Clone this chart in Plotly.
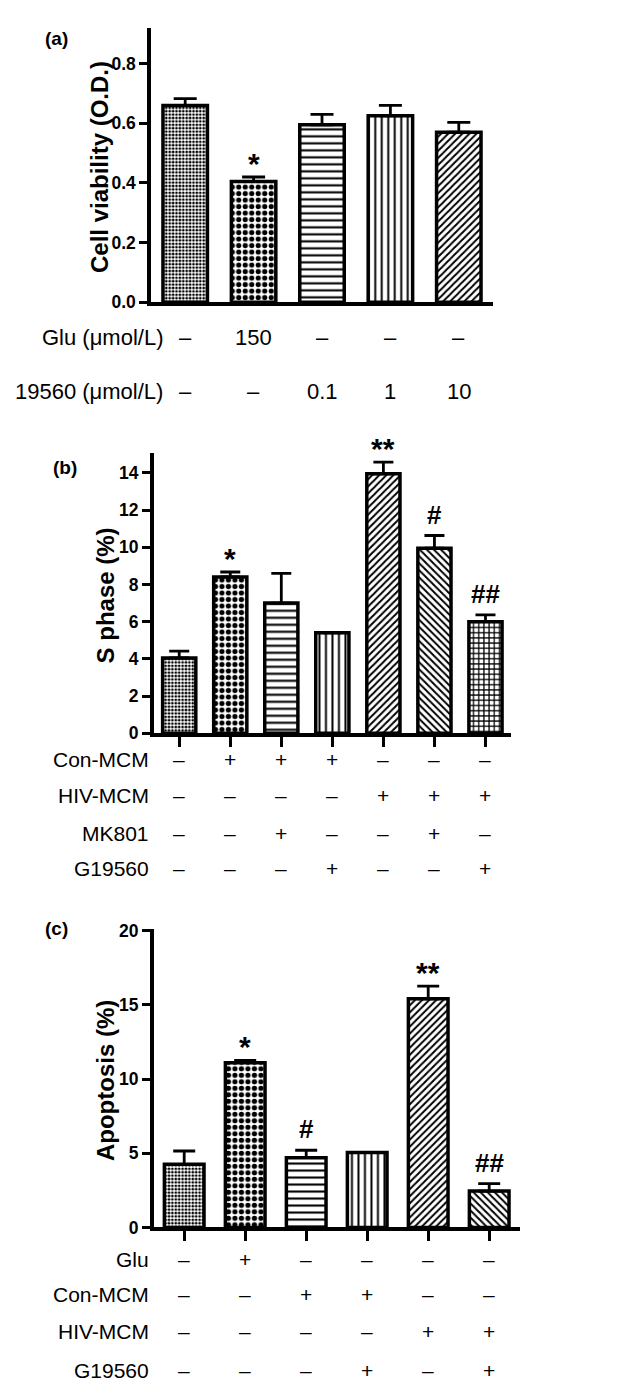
import plotly.graph_objects as go

W, H = 634, 1395

# ---------------- data ----------------
# Panel (a)
a_values = [0.66, 0.405, 0.595, 0.625, 0.57]
a_err = [0.023, 0.015, 0.035, 0.035, 0.033]
a_sig = ["", "*", "", "", ""]
a_row_labels = ["Glu (μmol/L)", "19560 (μmol/L)"]
a_rows = [["–", "150", "–", "–", "–"],
          ["–", "–", "0.1", "1", "10"]]
a_tickvals = [0, 0.2, 0.4, 0.6, 0.8]
a_ticktext = ["0.0", "0.2", "0.4", "0.6", "0.8"]
a_ytitle = "Cell viability (O.D.)"

# Panel (b)
b_values = [4.05, 8.4, 7.0, 5.4, 13.95, 9.95, 6.0]
b_err = [0.37, 0.27, 1.6, 0, 0.62, 0.68, 0.37]
b_sig = ["", "*", "", "", "**", "#", "##"]
b_row_labels = ["Con-MCM", "HIV-MCM", "MK801", "G19560"]
b_rows = [["–", "+", "+", "+", "–", "–", "–"],
          ["–", "–", "–", "–", "+", "+", "+"],
          ["–", "–", "+", "–", "–", "+", "–"],
          ["–", "–", "–", "+", "–", "–", "+"]]
b_tickvals = [0, 2, 4, 6, 8, 10, 12, 14]
b_ticktext = ["0", "2", "4", "6", "8", "10", "12", "14"]
b_ytitle = "S phase (%)"

# Panel (c)
c_values = [4.25, 11.1, 4.7, 5.05, 15.4, 2.45]
c_err = [0.9, 0.15, 0.5, 0, 0.85, 0.5]
c_sig = ["", "*", "#", "", "**", "##"]
c_row_labels = ["Glu", "Con-MCM", "HIV-MCM", "G19560"]
c_rows = [["–", "+", "–", "–", "–", "–"],
          ["–", "–", "+", "+", "–", "–"],
          ["–", "–", "–", "–", "+", "+"],
          ["–", "–", "–", "+", "–", "+"]]
c_tickvals = [0, 5, 10, 15, 20]
c_ticktext = ["0", "5", "10", "15", "20"]
c_ytitle = "Apoptosis (%)"

# ---------------- styles ----------------
FONT = "Liberation Sans, Arial, sans-serif"
pat_shape = [".", ".", "-", "|", "/", "\\", "+"]
pat_size = [3.4, 6.5, 7, 6.5, 5, 5, 5.2]
pat_solid = [0.5, 0.5, 0.3, 0.3, 0.4, 0.4, 0.42]


def px_x(x):
    return x / W


def px_y(y):
    return 1 - y / H


panels = [
    dict(name="(a)", values=a_values, err=a_err, sig=a_sig, row_labels=a_row_labels,
         rows=a_rows, tickvals=a_tickvals, ticktext=a_ticktext, ytitle=a_ytitle,
         yrange=[0, 0.92], xdom=(143, 485), ydom=(290, 12), xticks=False,
         capw=11.5, row_y=[326, 380], label_right=157, row_font=22,
         tag_xy=(35, 23), title_xy=(91, 153)),
    dict(name="(b)", values=b_values, err=b_err, sig=b_sig, row_labels=b_row_labels,
         rows=b_rows, tickvals=b_tickvals, ticktext=b_ticktext, ytitle=b_ytitle,
         yrange=[0, 15.05], xdom=(145.7, 503), ydom=(726.7, 443), xticks=True,
         capw=10, row_y=[753, 790, 828, 864], label_right=143, row_font=21,
         tag_xy=(43, 457), title_xy=(97, 587)),
    dict(name="(c)", values=c_values, err=c_err, sig=c_sig, row_labels=c_row_labels,
         rows=c_rows, tickvals=c_tickvals, ticktext=c_ticktext, ytitle=c_ytitle,
         yrange=[0, 20.1], xdom=(145.7, 511.7), ydom=(1227.3, 925), xticks=True,
         capw=11, row_y=[1260, 1295, 1333, 1372], label_right=143, row_font=21,
         tag_xy=(35, 924), title_xy=(97, 1079)),
]

sig_font = {"*": 30, "**": 30, "#": 26, "##": 26}
sig_shift = {"*": -5, "**": -5, "#": 4, "##": 4}

fig = go.Figure()
annotations = []
layout = {}

for k, p in enumerate(panels):
    n = len(p["values"])
    xs = list(range(n))
    sfx = "" if k == 0 else str(k + 1)
    xa, ya = "x" + sfx, "y" + sfx
    fig.add_trace(go.Bar(
        x=xs, y=p["values"], width=0.65,
        xaxis=xa, yaxis=ya,
        marker=dict(
            color="white",
            line=dict(color="black", width=3.5),
            pattern=dict(shape=pat_shape[:n], size=pat_size[:n], solidity=pat_solid[:n],
                         fgcolor="black", bgcolor="white", fillmode="replace"),
        ),
        error_y=dict(type="data", symmetric=False, array=p["err"], arrayminus=[0] * n,
                     color="black", thickness=2.8, width=p["capw"]),
        showlegend=False, hoverinfo="skip",
    ))
    layout["xaxis" + sfx] = dict(
        domain=[px_x(p["xdom"][0]), px_x(p["xdom"][1])],
        anchor=ya, range=[-0.5, n - 0.5],
        showline=True, linewidth=3.5, linecolor="black",
        showgrid=False, zeroline=False,
        ticks="outside" if p["xticks"] else "", ticklen=10, tickwidth=3, tickcolor="black",
        tickvals=xs, showticklabels=False, fixedrange=True,
    )
    layout["yaxis" + sfx] = dict(
        domain=[px_y(p["ydom"][0]), px_y(p["ydom"][1])],
        anchor=xa, range=p["yrange"],
        showline=True, linewidth=3.5, linecolor="black",
        showgrid=False, zeroline=False,
        ticks="outside", ticklen=8, tickwidth=3, tickcolor="black",
        tickvals=p["tickvals"], ticktext=p["ticktext"],
        tickfont=dict(family=FONT, size=17.5, color="black", weight="bold"),
        fixedrange=True,
    )
    # panel tag
    annotations.append(dict(
        text=p["name"], xref="paper", yref="paper",
        x=px_x(p["tag_xy"][0]), y=px_y(p["tag_xy"][1]),
        xanchor="left", yanchor="middle", showarrow=False,
        font=dict(family=FONT, size=19, color="black", weight="bold"),
    ))
    # y title
    annotations.append(dict(
        text=p["ytitle"], xref="paper", yref="paper",
        x=px_x(p["title_xy"][0]), y=px_y(p["title_xy"][1]),
        xanchor="center", yanchor="middle", textangle=-90, showarrow=False,
        font=dict(family=FONT, size=24, color="black", weight="bold"),
    ))
    # significance marks
    for i, s in enumerate(p["sig"]):
        if not s:
            continue
        annotations.append(dict(
            text=s, xref=xa, yref=ya, x=i, y=p["values"][i] + p["err"][i],
            xanchor="center", yanchor="bottom", yshift=sig_shift[s], showarrow=False,
            font=dict(family=FONT, size=sig_font[s], color="black", weight="bold"),
        ))
    # condition table
    for r, (lab, row) in enumerate(zip(p["row_labels"], p["rows"])):
        yy = px_y(p["row_y"][r])
        annotations.append(dict(
            text=lab, xref="paper", yref="paper", x=px_x(p["label_right"]), y=yy,
            xanchor="right", yanchor="middle", showarrow=False,
            font=dict(family=FONT, size=p["row_font"], color="black"),
        ))
        for i, sym in enumerate(row):
            annotations.append(dict(
                text=sym, xref=xa, yref="paper", x=i, y=yy,
                xanchor="center", yanchor="middle", showarrow=False,
                font=dict(family=FONT, size=p["row_font"], color="black"),
            ))

fig.update_layout(
    width=W, height=H,
    margin=dict(l=0, r=0, t=0, b=0),
    paper_bgcolor="white", plot_bgcolor="white",
    annotations=annotations,
    **layout,
)

fig.write_html("out.html")
